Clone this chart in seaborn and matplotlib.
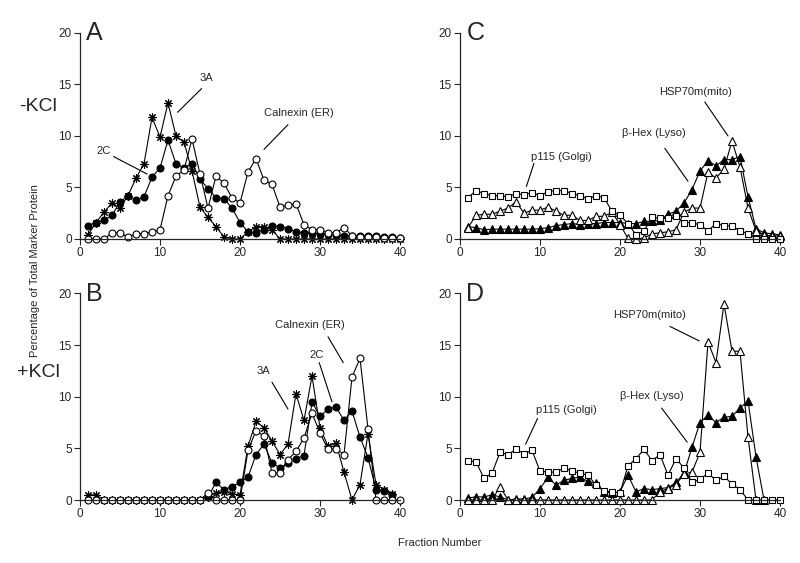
import numpy as np
import matplotlib
matplotlib.use('Agg')
import matplotlib.pyplot as plt
import seaborn as sns

# fraction numbers
fractions = list(range(1, 41))

# panel A (-KCl): Calnexin (ER), 2C, 3A
a_calnexin = [0, 0, 0, 0.6, 0.6, 0.2, 0.5, 0.5, 0.7, 0.9, 4.2, 6.1, 6.7, 9.7, 6.3, 3.0, 6.1, 5.4,
              4.0, 3.5, 6.5, 7.8, 5.7, 5.3, 3.1, 3.3, 3.4, 1.4, 0.9, 0.9, 0.6, 0.6, 1.1,
              0.3, 0.2, 0.2, 0.2, 0.1, 0.1, 0.1]
a_2c = [1.3, 1.6, 1.8, 2.3, 3.6, 4.2, 3.8, 4.1, 6.0, 6.9, 9.6, 7.3, 6.9, 7.3, 5.8, 4.9, 4.0, 3.9,
        3.0, 1.6, 0.7, 0.6, 0.9, 1.3, 1.2, 1.0, 0.7, 0.6, 0.6, 0.5, 0.5, 0.4, 0.3, 0.3, 0.3, 0.3,
        0.3, 0.2, 0.2, 0.1]
a_3a = [0.4, 1.6, 2.6, 3.5, 3.0, 4.2, 5.9, 7.3, 11.8, 9.9, 13.2, 10.0, 9.4, 6.6, 3.1, 2.1, 1.2,
        0.2, 0, 0, 0.7, 1.2, 1.2, 0.9, 0, 0, 0, 0, 0, 0, 0, 0, 0, 0, 0, 0, 0, 0, 0, 0]

# panel B (+KCl)
b_calnexin = [0, 0, 0, 0, 0, 0, 0, 0, 0, 0, 0, 0, 0, 0, 0, 0.7, 0, 0, 0, 0,
              4.8, 6.7, 6.2, 2.6, 2.6, 3.9, 4.7, 6.0, 8.4, 6.5, 4.9, 4.95, 4.4, 11.9, 13.7, 6.9,
              0, 0, 0, 0]
b_2c = [None] * 15 + [0.3, 1.7, 1.0, 1.3, 1.7, 2.2, 4.4, 5.4, 3.6, 3.1, 3.6, 4.0, 4.3, 9.5, 8.1,
                      8.8, 9.0, 7.7, 8.6, 6.1, 4.1, 1.0, 0.9, 0.5, None]
b_3a = [0.5, 0.5, 0, 0, 0, 0, 0, 0, 0, 0, 0, 0, 0, 0, 0, 0.3, 0.7, 0.8, 0.6, 0.5,
        5.2, 7.6, 7.0, 5.7, 4.4, 5.4, 10.3, 7.7, 12.0, 7.0, 5.2, 5.5, 2.7, 0, 1.5, 6.4,
        1.5, 1.0, 0.6, None]

# panel C (-KCl): p115 (Golgi), HSP70m (mito), beta-Hex (Lyso)
c_p115 = [4.0, 4.7, 4.4, 4.2, 4.2, 4.1, 4.4, 4.3, 4.5, 4.2, 4.6, 4.7, 4.7, 4.4, 4.2, 3.9, 4.2,
          4.0, 2.7, 2.3, 1.5, 0.4, 0.8, 2.1, 2.0, 2.0, 2.2, 1.6, 1.6, 1.35, 0.8, 1.5, 1.3, 1.25,
          0.8, 0.5, 0, 0, 0, 0]
c_hsp = [1.1, 2.3, 2.4, 2.4, 2.7, 3.0, 3.6, 2.5, 2.8, 2.8, 3.1, 2.7, 2.3, 2.3, 1.8, 1.8, 2.2,
         2.2, 2.6, 1.4, 0.05, 0, 0.1, 0.5, 0.6, 0.7, 0.9, 2.6, 3.0, 3.0, 6.5, 5.9, 6.8, 9.5,
         7.0, 3.0, 0.8, 0.4, 0.3, 0.3]
c_hex = [1.2, 1.1, 0.9, 0.95, 0.95, 0.95, 0.95, 0.95, 0.95, 1.0, 1.1, 1.3, 1.4, 1.5, 1.4, 1.5,
         1.5, 1.6, 1.6, 1.6, 1.5, 1.5, 1.7, 1.7, 1.8, 2.4, 2.7, 3.5, 4.8, 6.6, 7.6, 7.1, 7.7,
         7.7, 8.0, 4.1, 1.0, 0.6, 0.5, 0.4]

# panel D (+KCl)
d_p115 = [3.8, 3.7, 2.1, 2.6, 4.6, 4.4, 4.9, 4.5, 4.8, 2.8, 2.7, 2.7, 3.1, 2.8, 2.6, 2.4, 1.45,
          0.9, 0.75, 0.7, 3.3, 4.0, 4.9, 3.8, 4.4, 2.4, 4.0, 3.1, 1.7, 2.0, 2.6, 1.9, 2.3, 1.55,
          1.0, 0, 0, 0, 0, 0]
d_hsp = [0, 0, 0, 0, 1.3, 0, 0, 0, 0, 0, 0, 0, 0, 0, 0, 0, 0, 0, 0, 0, 0, 0, 0, 0,
         0.8, 1.1, 1.5, 2.5, 2.7, 4.6, 15.3, 13.3, 19.0, 14.4, 14.4, 6.1, 0, None, None, None]
d_hex = [0.2, 0.3, 0.3, 0.5, 0.3, 0, 0.1, 0.1, 0.25, 1.1, 2.2, 1.45, 1.9, 2.1, 2.2, 1.8, 1.6,
         0.8, 0.65, 0.8, 2.4, 0.8, 1.1, 1.0, 1.1, 1.2, 1.7, 2.6, 5.1, 7.5, 8.2, 7.5, 8.0, 8.1,
         8.9, 9.6, 4.2, 0, None, None]

sns.set_theme(style='ticks')
plt.rcParams['font.family'] = ['Liberation Sans', 'DejaVu Sans']

OPEN_CIRCLE = dict(marker='o', markerfacecolor='white', markersize=5)
FILL_CIRCLE = dict(marker='o', markerfacecolor='black', markersize=5)
ASTERISK = dict(marker=(8, 2, 0), markerfacecolor='black', markersize=6)
OPEN_SQUARE = dict(marker='s', markerfacecolor='white', markersize=5)
OPEN_TRI = dict(marker='^', markerfacecolor='white', markersize=5.5)
FILL_TRI = dict(marker='^', markerfacecolor='black', markersize=5.5)


def draw(ax, values, style):
    y = np.array([np.nan if v is None else v for v in values], dtype=float)
    sns.lineplot(x=fractions, y=y, ax=ax, color='black', linewidth=0.8,
                 markeredgecolor='black', markeredgewidth=0.8, clip_on=False,
                 **style)


def setup(ax, letter):
    ax.set_xlim(0, 40)
    ax.set_ylim(0, 20)
    ax.set_xticks([0, 10, 20, 30, 40])
    ax.set_yticks([0, 5, 10, 15, 20])
    ax.tick_params(labelsize=8.5, length=4, width=0.8, pad=2)
    for s in ['left', 'bottom']:
        ax.spines[s].set_linewidth(0.9)
    sns.despine(ax=ax)
    ax.set_xlabel('')
    ax.set_ylabel('')
    ax.text(0.8, 19.3, letter, fontsize=18, ha='left', va='baseline')


def note(ax, text, txy, start, end):
    ax.text(txy[0], txy[1], text, fontsize=8, ha='center', va='center')
    ax.plot([start[0], end[0]], [start[1], end[1]], color='black', linewidth=0.8)


fig = plt.figure(figsize=(8, 5.63), dpi=100)
axA = fig.add_axes([0.1, 0.5755, 0.4, 0.366])
axC = fig.add_axes([0.575, 0.5755, 0.4, 0.366])
axB = fig.add_axes([0.1, 0.1119, 0.4, 0.367])
axD = fig.add_axes([0.575, 0.1119, 0.4, 0.367])

# A
draw(axA, a_3a, ASTERISK)
draw(axA, a_2c, FILL_CIRCLE)
draw(axA, a_calnexin, OPEN_CIRCLE)
setup(axA, 'A')
note(axA, '3A', (15.8, 15.6), (15.2, 14.6), (12.2, 12.3))
note(axA, '2C', (3.0, 8.5), (4.2, 8.0), (8.4, 6.3))
note(axA, 'Calnexin (ER)', (27.3, 12.2), (26.0, 11.1), (23.0, 8.7))

# B
draw(axB, b_3a, ASTERISK)
draw(axB, b_2c, FILL_CIRCLE)
draw(axB, b_calnexin, OPEN_CIRCLE)
setup(axB, 'B')
note(axB, 'Calnexin (ER)', (28.7, 16.9), (31.0, 15.8), (32.9, 13.3))
note(axB, '2C', (29.6, 14.0), (29.9, 13.3), (31.5, 9.5))
note(axB, '3A', (22.9, 12.5), (24.0, 11.4), (26.0, 8.8))

# C
draw(axC, c_hex, FILL_TRI)
draw(axC, c_hsp, OPEN_TRI)
draw(axC, c_p115, OPEN_SQUARE)
setup(axC, 'C')
note(axC, 'p115 (Golgi)', (12.7, 8.0), (9.25, 7.35), (8.3, 5.1))
note(axC, 'HSP70m(mito)', (29.5, 14.3), (30.6, 13.3), (33.5, 10.0))
note(axC, 'β-Hex (Lyso)', (24.2, 10.3), (25.6, 8.8), (28.5, 5.6))

# D
draw(axD, d_hex, FILL_TRI)
draw(axD, d_hsp, OPEN_TRI)
draw(axD, d_p115, OPEN_SQUARE)
setup(axD, 'D')
note(axD, 'p115 (Golgi)', (13.25, 8.7), (9.7, 7.9), (8.2, 5.4))
note(axD, 'HSP70m(mito)', (23.75, 17.9), (26.25, 16.8), (29.9, 15.4))
note(axD, 'β-Hex (Lyso)', (24.0, 10.1), (25.2, 8.9), (28.4, 5.6))

fig.text(0.0475, 0.81, '-KCl', fontsize=14, ha='center', va='center')
fig.text(0.0475, 0.339, '+KCl', fontsize=14, ha='center', va='center')
fig.text(0.044, 0.52, 'Percentage of Total Marker Protein', fontsize=8,
         rotation=90, ha='center', va='center')
fig.text(0.55, 0.0355, 'Fraction Number', fontsize=8, ha='center', va='center')

fig.savefig('out.png', dpi=100)
